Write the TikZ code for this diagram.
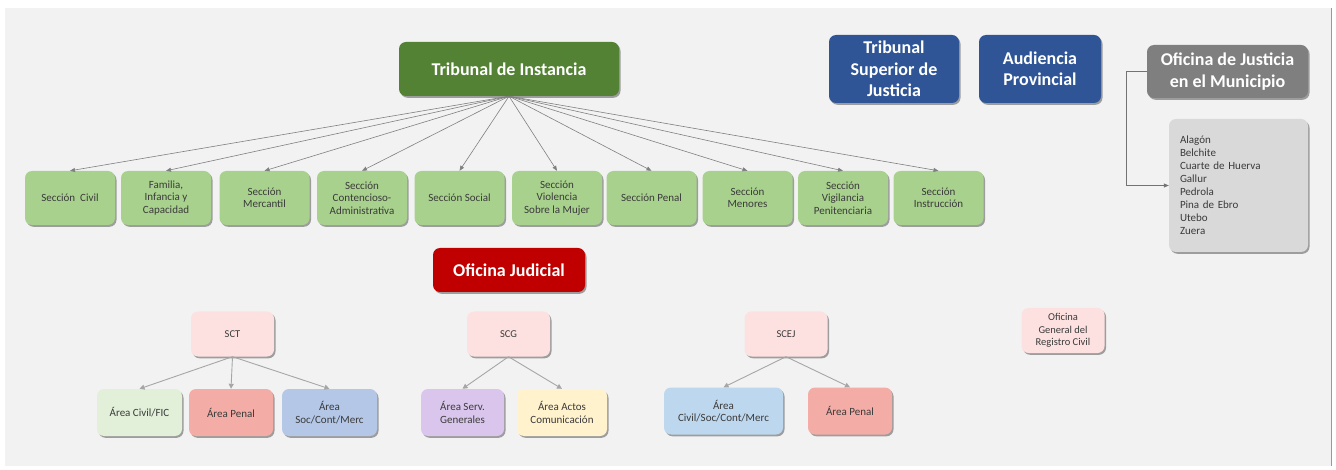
\documentclass[tikz,border=0pt]{standalone}
\usepackage{fontspec}
\setmainfont{Carlito}
\usetikzlibrary{arrows.meta,shadows}

\definecolor{panelgray}{HTML}{F2F2F2}
\definecolor{tigreen}{HTML}{548235}
\definecolor{secgreen}{HTML}{A9D18E}
\definecolor{tsjblue}{HTML}{2F5597}
\definecolor{ojmgray}{HTML}{7F7F7F}
\definecolor{mungray}{HTML}{D9D9D9}
\definecolor{ojred}{HTML}{C00000}
\definecolor{scpink}{HTML}{FDE1E1}
\definecolor{civgreen}{HTML}{E2F0D9}
\definecolor{penred}{HTML}{F4ADA6}
\definecolor{socblue}{HTML}{B4C7E7}
\definecolor{servlila}{HTML}{DAC6EC}
\definecolor{actyellow}{HTML}{FFF2CC}
\definecolor{civblue}{HTML}{BDD7EE}
\definecolor{txtgray}{HTML}{3A3A3A}

\tikzset{
  box/.style={rounded corners=7pt, align=center, inner sep=2pt, text=txtgray,
    font=\fontsize{11}{12.5}\selectfont,
    drop shadow={shadow xshift=1.5pt, shadow yshift=-1.8pt, opacity=0.35, fill=black}},
  bigbox/.style={box, text=white, font=\fontsize{18}{21.5}\selectfont\bfseries},
  secbox/.style={box, fill=secgreen, minimum width=90pt, minimum height=54pt},
  scbox/.style={box, fill=scpink, minimum width=83pt, minimum height=45pt, font=\fontsize{10.5}{12.5}\selectfont},
  areabox/.style={box, minimum height=47pt, font=\fontsize{11}{12.5}\selectfont},
  tiarrow/.style={-{Triangle[length=5pt,width=4pt]}, draw=black!50, line width=0.6pt},
  scarrow/.style={-{Triangle[length=5pt,width=5pt]}, draw=black!35, line width=0.9pt}
}

\begin{document}
\begin{tikzpicture}[x=1pt, y=-1pt]
  \useasboundingbox (0,0) rectangle (1336,470);
  % panel
  \fill[panelgray] (5,8) rectangle (1331,466);
  \draw[black!40] (1331,8) -- (1331,466);

  % top row
  \node[bigbox, fill=tigreen, minimum width=220pt, minimum height=54pt] (ti) at (509,69) {Tribunal de Instancia};
  \node[bigbox, fill=tsjblue, minimum width=130pt, minimum height=68pt] (tsj) at (894,69) {Tribunal\\Superior de\\Justicia};
  \node[bigbox, fill=tsjblue, minimum width=122pt, minimum height=68pt] (ap) at (1040,69) {Audiencia\\Provincial};
  \node[bigbox, fill=ojmgray, minimum width=161pt, minimum height=53pt] (ojm) at (1227.5,71.5) {Oficina de Justicia\\en el Municipio};
  \node[box, fill=mungray, minimum width=139pt, minimum height=133pt, text width=117pt, align=left,
    font=\fontsize{11}{13}\selectfont] (mun) at (1238.5,185.5)
    {Alagón\\Belchite\\Cuarte de Huerva\\Gallur\\Pedrola\\Pina de Ebro\\Utebo\\Zuera};
  \draw[-{Triangle[length=5pt,width=4pt]}, black!55, line width=0.6pt] (ojm.west) -- ++(-21,0) |- (mun.west);

  % secciones
  \foreach \cx/\txt [count=\i] in {70/{Sección~~Civil}, 166/{Familia,\\Infancia y\\Capacidad},
      264.5/{Sección\\Mercantil}, 362/{Sección\\Contencioso-\\Administrativa}, 459.5/{Sección Social},
      557/{Sección\\Violencia\\Sobre la Mujer}, 651.5/{Sección Penal}, 747.5/{Sección\\Menores},
      843/{Sección\\Vigilancia\\Penitenciaria}, 938.5/{Sección\\Instrucción}}{
    \node[secbox] (s\i) at (\cx,198) {\txt};
    \draw[tiarrow] (ti.south) -- (s\i.north);
  }

  % oficina judicial
  \node[bigbox, fill=ojred, minimum width=152pt, minimum height=44pt] (oj) at (509,270) {Oficina Judicial};
  \node[scbox] (sct) at (232.5,334) {SCT};
  \node[scbox] (scg) at (508.5,334) {SCG};
  \node[scbox] (scej) at (786,334) {SCEJ};
  \node[scbox] (ogrc) at (1063,330.5) {Oficina\\General del\\Registro Civil};

  % areas
  \node[areabox, fill=civgreen, minimum width=85pt] (a1) at (139.5,412.5) {Área Civil/FIC};
  \node[areabox, fill=penred, minimum width=84pt] (a2) at (231,412.5) {Área Penal};
  \node[areabox, fill=socblue, minimum width=95pt] (a3) at (329.5,412.5) {Área\\Soc/Cont/Merc};
  \node[areabox, fill=servlila, minimum width=83pt] (a4) at (462.5,412.5) {Área Serv.\\Generales};
  \node[areabox, fill=actyellow, minimum width=90pt] (a5) at (562,412.5) {Área Actos\\Comunicación};
  \node[areabox, fill=civblue, minimum width=119pt] (a6) at (723.5,411) {Área\\Civil/Soc/Cont/Merc};
  \node[areabox, fill=penred, minimum width=84pt] (a7) at (850,411) {Área Penal};

  \draw[scarrow] (sct.south) -- (a1.north);
  \draw[scarrow] (sct.south) -- (a2.north);
  \draw[scarrow] (sct.south) -- (a3.north);
  \draw[scarrow] (scg.south) -- (a4.north);
  \draw[scarrow] (scg.south) -- (a5.north);
  \draw[scarrow] (scej.south) -- (a6.north);
  \draw[scarrow] (scej.south) -- (a7.north);
\end{tikzpicture}
\end{document}
